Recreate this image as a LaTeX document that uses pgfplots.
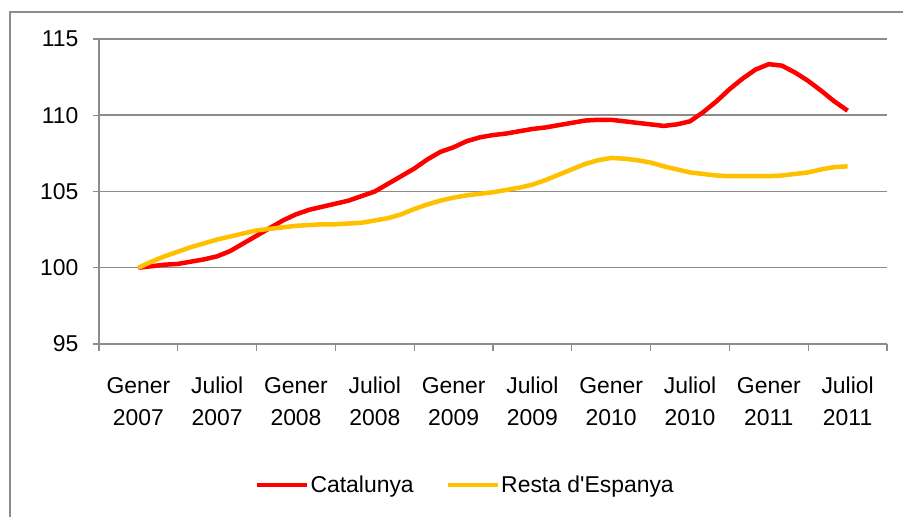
\documentclass[border=0pt]{standalone}
\usepackage{fontspec}
\setmainfont{Liberation Sans}
\usepackage{pgfplots}
\pgfplotsset{compat=1.18}
\definecolor{cat}{HTML}{FF0000}
\definecolor{resta}{HTML}{FFC000}
\definecolor{gridg}{HTML}{8C8C8C}
\begin{document}
\begin{tikzpicture}[x=1bp,y=1bp]
\useasboundingbox (0,0) rectangle (903,517);
\draw[gridg, line width=1.3bp] (10,-2) -- (10,505) -- (905,505);
\begin{axis}[
  at={(99bp,173bp)}, anchor=south west,
  scale only axis, width=788bp, height=305bp,
  xmin=-3, xmax=57, ymin=95, ymax=115,
  axis x line*=bottom, axis y line*=left,
  axis line style={gridg, line width=1.5bp, -},
  xtick={0,6,...,54},
  xticklabels={{\strut Gener\\2007},{\strut Juliol\\2007},{\strut Gener\\2008},{\strut Juliol\\2008},{\strut Gener\\2009},{\strut Juliol\\2009},{\strut Gener\\2010},{\strut Juliol\\2010},{\strut Gener\\2011},{\strut Juliol\\2011}},
  major x tick style={draw=none},
  minor xtick={-3,3,...,57},
  minor tick length=7bp,
  minor x tick style={gridg, line width=1.3bp},
  ytick={95,100,...,115},
  major tick length=6bp,
  tick align=outside,
  y tick style={gridg, line width=1.3bp},
  ymajorgrids,
  major grid style={gridg, line width=1.5bp},
  /pgf/number format/assume math mode=true,
  tick label style={font=\fontsize{23}{32}\selectfont, text=black},
  xticklabel style={align=center, yshift=-18bp},
  yticklabel style={xshift=-11bp},
  legend style={at={(0.465,-0.462)}, anchor=center, draw=none, fill=none,
    font=\fontsize{23}{28}\selectfont, legend columns=2,
    /tikz/every even column/.append style={column sep=30bp}},
  legend image code/.code={\draw[#1, line width=3.5bp] (0bp,0bp) -- (50bp,0bp);},
  clip=false,
]
\addplot[cat, line width=4.5bp, line join=round] coordinates {
(0,100.0) (1,100.1) (2,100.2) (3,100.25) (4,100.4) (5,100.55) (6,100.75) (7,101.1) (8,101.6) (9,102.1)
(10,102.6) (11,103.1) (12,103.5) (13,103.8) (14,104.0) (15,104.2) (16,104.4) (17,104.7) (18,105.0) (19,105.5)
(20,106.0) (21,106.5) (22,107.1) (23,107.6) (24,107.9) (25,108.3) (26,108.55) (27,108.7) (28,108.8) (29,108.95)
(30,109.1) (31,109.2) (32,109.35) (33,109.5) (34,109.65) (35,109.7) (36,109.7) (37,109.6) (38,109.5) (39,109.4)
(40,109.3) (41,109.4) (42,109.6) (43,110.2) (44,110.9) (45,111.7) (46,112.4) (47,113.0) (48,113.35) (49,113.25)
(50,112.8) (51,112.25) (52,111.6) (53,110.9) (54,110.3)
};
\addlegendentry{Catalunya}
\addplot[resta, line width=4.5bp, line join=round] coordinates {
(0,100.0) (1,100.4) (2,100.75) (3,101.05) (4,101.35) (5,101.6) (6,101.85) (7,102.05) (8,102.25) (9,102.45)
(10,102.55) (11,102.65) (12,102.75) (13,102.8) (14,102.85) (15,102.85) (16,102.9) (17,102.95) (18,103.1) (19,103.25)
(20,103.5) (21,103.85) (22,104.15) (23,104.4) (24,104.6) (25,104.75) (26,104.85) (27,104.95) (28,105.1) (29,105.25)
(30,105.45) (31,105.75) (32,106.1) (33,106.45) (34,106.8) (35,107.05) (36,107.2) (37,107.15) (38,107.05) (39,106.9)
(40,106.65) (41,106.45) (42,106.25) (43,106.15) (44,106.05) (45,106.0) (46,106.0) (47,106.0) (48,106.0) (49,106.05)
(50,106.15) (51,106.25) (52,106.45) (53,106.6) (54,106.65)
};
\addlegendentry{Resta d\textquotesingle Espanya}
\end{axis}
\end{tikzpicture}
\end{document}
